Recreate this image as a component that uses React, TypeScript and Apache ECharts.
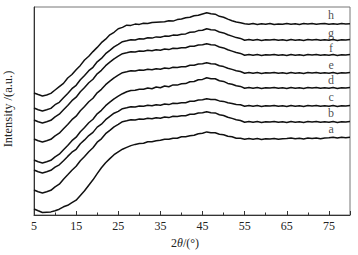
import React, { useEffect, useRef } from "react";
import * as echarts from "echarts";

const xValues = [
  5, 6, 7, 8, 9, 10, 11, 12, 13, 14,
  15, 16, 17, 18, 19, 20, 21, 22, 23, 24,
  25, 26, 27, 28, 29, 30, 31, 32, 33, 34,
  35, 36, 37, 38, 39, 40, 41, 42, 43, 44,
  45, 46, 47, 48, 49, 50, 51, 52, 53, 54,
  55, 56, 57, 58, 59, 60, 61, 62, 63, 64,
  65, 66, 67, 68, 69, 70, 71, 72, 73, 74,
  75, 76, 77, 78, 79, 80,
];

const curveH = [
  122, 120.5, 119, 120, 121.6, 125, 128.3, 131.6, 137, 140.5,
  145.3, 149.6, 155, 158.7, 163.4, 167.6, 172.3, 175.8, 180.2, 182.7,
  186.3, 187.6, 189.8, 189.6, 190.9, 190.6, 191.8, 191.5, 192.4, 192.7,
  193, 193.2, 194.3, 193.9, 195.4, 196, 197.2, 197.8, 199.2, 199.8,
  201, 202.2, 201.3, 200.8, 198.7, 197.8, 195.9, 194.3, 193, 192.2,
  191.2, 190.7, 191.4, 190.5, 191.2, 190.8, 191.6, 190.6, 191.1, 190.7,
  191.5, 190.8, 191.3, 190.6, 191.4, 190.9, 191.5, 190.7, 191.2, 191.6,
  190.8, 191.3, 190.7, 191.4, 190.9, 191.2,
];
const curveG = [
  107, 105.3, 104, 105.2, 106.6, 110.3, 112.7, 117.2, 121.6, 126.3,
  129.7, 135.2, 139.6, 144.3, 147.7, 153.2, 156.6, 161.3, 164.7, 168.2,
  170.7, 173.3, 174.2, 175.3, 175.1, 176.2, 176.1, 177.2, 176.9, 178.1,
  177.7, 178.9, 178.7, 179.9, 179.7, 180.8, 181.1, 182.7, 182.9, 184.4,
  184.7, 186.2, 185.3, 184.9, 183, 182.1, 180.2, 178.9, 177.4, 176.6,
  174.8, 175.4, 174.7, 175.5, 174.6, 175.3, 174.9, 175.6, 174.7, 175.2,
  174.6, 175.5, 174.8, 175.3, 174.5, 175.4, 174.9, 175.6, 174.7, 175.3,
  174.8, 175.5, 174.6, 175.2, 174.9, 175.4,
];
const curveF = [
  95, 93.2, 92, 93.3, 94.7, 98.2, 100.8, 105.3, 109.6, 114.3,
  117.8, 123.3, 127.6, 132.2, 135.8, 141.2, 144.7, 149.3, 152.8, 156.2,
  158.8, 161.3, 162.2, 163.3, 163.1, 163.9, 163.7, 164.7, 164.2, 165.3,
  164.8, 165.9, 165.4, 166.7, 166.5, 167.3, 167.3, 168.7, 168.8, 169.9,
  170.2, 171.2, 170.3, 169.9, 168, 167.1, 165.2, 163.9, 162.5, 161.6,
  159.8, 160.4, 159.7, 160.5, 159.6, 160.3, 159.9, 160.6, 159.7, 160.2,
  159.6, 160.5, 159.8, 160.3, 159.5, 160.4, 159.9, 160.6, 159.7, 160.3,
  159.8, 160.5, 159.6, 160.2, 159.9, 160.4,
];
const curveE = [
  76, 74.2, 73, 74.3, 75.7, 79.2, 81.8, 86.3, 90.6, 95.3,
  98.8, 104.3, 108.6, 113.2, 116.8, 122.2, 125.7, 130.3, 133.8, 137.2,
  139.8, 142.3, 143.2, 144.3, 144.1, 144.9, 144.7, 145.7, 145.2, 146.3,
  145.8, 146.9, 146.4, 147.7, 147.5, 148.3, 148.3, 149.7, 149.8, 150.9,
  151.2, 152.2, 151.3, 151, 149.2, 148.4, 146.8, 145.6, 144.3, 143.5,
  141.8, 142.4, 141.7, 142.5, 141.6, 142.3, 141.9, 142.6, 141.7, 142.2,
  141.6, 142.5, 141.8, 142.3, 141.5, 142.4, 141.9, 142.6, 141.7, 142.3,
  141.8, 142.5, 141.6, 142.2, 141.9, 142.4,
];
const curveD = [
  55, 53.2, 52, 53.3, 54.7, 58.2, 60.8, 65.3, 69.6, 74.3,
  77.8, 83.3, 87.6, 92.2, 95.8, 101.2, 104.7, 109.3, 112.8, 116.2,
  118.8, 121.3, 123.2, 124.5, 124.8, 125.8, 125.7, 127, 126.3, 128,
  127.2, 129, 128.2, 130.1, 129.9, 131.2, 131.4, 133.3, 133.5, 135.3,
  135.6, 137.2, 136.3, 136.2, 134.2, 133.6, 131.6, 130.8, 129.2, 128.6,
  126.8, 127.4, 126.7, 127.5, 126.6, 127.3, 126.9, 127.6, 126.7, 127.2,
  126.6, 127.5, 126.8, 127.3, 126.5, 127.4, 126.9, 127.6, 126.7, 127.3,
  126.8, 127.5, 126.6, 127.2, 126.9, 127.4,
];
const curveC = [
  45, 43.2, 42, 43.3, 44.7, 47.8, 50.2, 54.3, 58.6, 62.8,
  65.7, 71.3, 75.1, 79.4, 82.6, 87.9, 90.8, 95.3, 98.6, 101.8,
  103.6, 106.3, 107.2, 108.3, 108.1, 108.9, 108.7, 109.7, 109.2, 110.3,
  109.8, 110.9, 110.4, 111.7, 111.5, 112.3, 112.3, 113.7, 113.8, 114.9,
  115.2, 116.2, 115.4, 115.5, 114.1, 113.6, 112.2, 111.6, 110.6, 110.2,
  108.8, 109.4, 108.7, 109.5, 108.6, 109.3, 108.9, 109.6, 108.7, 109.2,
  108.6, 109.5, 108.8, 109.3, 108.5, 109.4, 108.9, 109.6, 108.7, 109.3,
  108.8, 109.5, 108.6, 109.2, 108.9, 109.4,
];
const curveB = [
  25, 23.2, 22, 23.3, 24.7, 28.2, 30.8, 35.8, 40.2, 44.8,
  48.7, 54.3, 58.6, 63.2, 67.2, 72.8, 76.2, 81.3, 84.7, 88.2,
  90.6, 93.3, 94.2, 95.3, 95.1, 95.9, 95.7, 96.7, 96.2, 97.3,
  96.8, 97.9, 97.4, 98.7, 98.5, 99.3, 99.3, 100.7, 100.8, 101.9,
  102.2, 103.2, 102.3, 102.1, 100.3, 99.5, 97.8, 96.6, 95.3, 94.5,
  92.8, 93.4, 92.7, 93.5, 92.6, 93.3, 92.9, 93.6, 92.7, 93.2,
  92.6, 93.5, 92.8, 93.3, 92.5, 93.4, 92.9, 93.6, 92.7, 93.3,
  92.8, 93.5, 92.6, 93.2, 92.9, 93.4,
];
const curveA = [
  6, 4.2, 2.5, 2.8, 3.1, 4.3, 5.8, 8.2, 9.7, 12.3,
  14.8, 19.6, 24.3, 29.8, 35.2, 41.4, 47.2, 52.3, 56.4, 60.3,
  63.2, 65.8, 67.6, 69.4, 70.6, 71.5, 71.8, 73.2, 73.3, 74.2,
  74.7, 75.8, 75.7, 76.8, 76.7, 78.2, 78.3, 79.3, 79.8, 81.2,
  81.7, 83.1, 82.3, 82.2, 80.8, 80.3, 78.8, 78.2, 76.8, 76.7,
  75.8, 76.4, 75.7, 76.5, 75.6, 76.3, 75.9, 76.6, 75.7, 76.2,
  76.4, 76.9, 76.2, 76.8, 76.1, 76.9, 76.4, 77.1, 76.3, 76.9,
  77.2, 77.8, 77.1, 77.7, 77.3, 77.8,
];

const curveNames = ["a", "b", "c", "d", "e", "f", "g", "h"];
const curves = [curveA, curveB, curveC, curveD, curveE, curveF, curveG, curveH];
const labelX = [75.5, 75.5, 75.5, 75.5, 75.5, 75.5, 75.5, 75.5];
const labelY = [86, 102, 118, 135, 150, 167, 182, 200];
const xTicks = { min: 5, max: 80, interval: 10 };

const SERIF = "Times New Roman, Liberation Serif, serif";

export default function App() {
  const ref = useRef<HTMLDivElement>(null);
  useEffect(() => {
    if (!ref.current) return;
    const chart = echarts.init(ref.current, null, { renderer: "svg" });
    const lineSeries = curves.map((c, i) => ({
      type: "line",
      name: curveNames[i],
      data: c.map((v, j) => [xValues[j], v]),
      showSymbol: false,
      symbol: "none",
      smooth: false,
      lineStyle: { color: "#111", width: 1.5 },
      silent: true,
    }));
    const labelSeries = {
      type: "scatter",
      data: curveNames.map((n, i) => [labelX[i], labelY[i], n]),
      symbolSize: 1,
      itemStyle: { color: "rgba(0,0,0,0)" },
      label: {
        show: true,
        position: "inside",
        formatter: (p: any) => p.data[2],
        fontFamily: SERIF,
        fontSize: 12,
        color: "#222",
      },
      silent: true,
    };
    chart.setOption({
      animation: false,
      backgroundColor: "#fff",
      textStyle: { fontFamily: SERIF },
      grid: {
        left: 34,
        right: 8,
        top: 7,
        bottom: 40,
        containLabel: false,
        outerBoundsMode: "none",
        show: true,
        borderColor: "#777",
        borderWidth: 1,
        backgroundColor: "transparent",
      },
      xAxis: {
        type: "value",
        min: xTicks.min,
        max: xTicks.max,
        interval: xTicks.interval,
        name: "2{i|θ}/(°)",
        nameLocation: "middle",
        nameGap: 22,
        nameTextStyle: {
          fontFamily: SERIF,
          fontSize: 12,
          color: "#222",
          padding: [0, 14, 0, 0],
          rich: { i: { fontFamily: SERIF, fontSize: 12, fontStyle: "italic", color: "#222" } },
        },
        axisLine: { show: true, lineStyle: { color: "#333", width: 1 } },
        axisTick: { show: true, inside: true, length: 4, lineStyle: { color: "#333" } },
        minorTick: { show: true, splitNumber: 2, length: 2.5, lineStyle: { color: "#333" } },
        splitLine: { show: false },
        axisLabel: {
          fontFamily: SERIF,
          fontSize: 12,
          color: "#222",
          margin: 5,
          showMaxLabel: false,
        },
      },
      yAxis: {
        type: "value",
        min: 0,
        max: 208,
        name: "Intensity /(a.u.)",
        nameLocation: "middle",
        nameGap: 20,
        nameTextStyle: { fontFamily: SERIF, fontSize: 12.5, color: "#222", padding: [0, 0, 0, 4] },
        axisLine: { show: true, lineStyle: { color: "#333", width: 1 } },
        axisTick: { show: false },
        axisLabel: { show: false },
        splitLine: { show: false },
      },
      series: [...lineSeries, labelSeries],
    });
    return () => chart.dispose();
  }, []);
  return (
    <div
      ref={ref}
      style={{ position: "fixed", left: 0, top: 0, width: 358, height: 255 }}
    />
  );
}
